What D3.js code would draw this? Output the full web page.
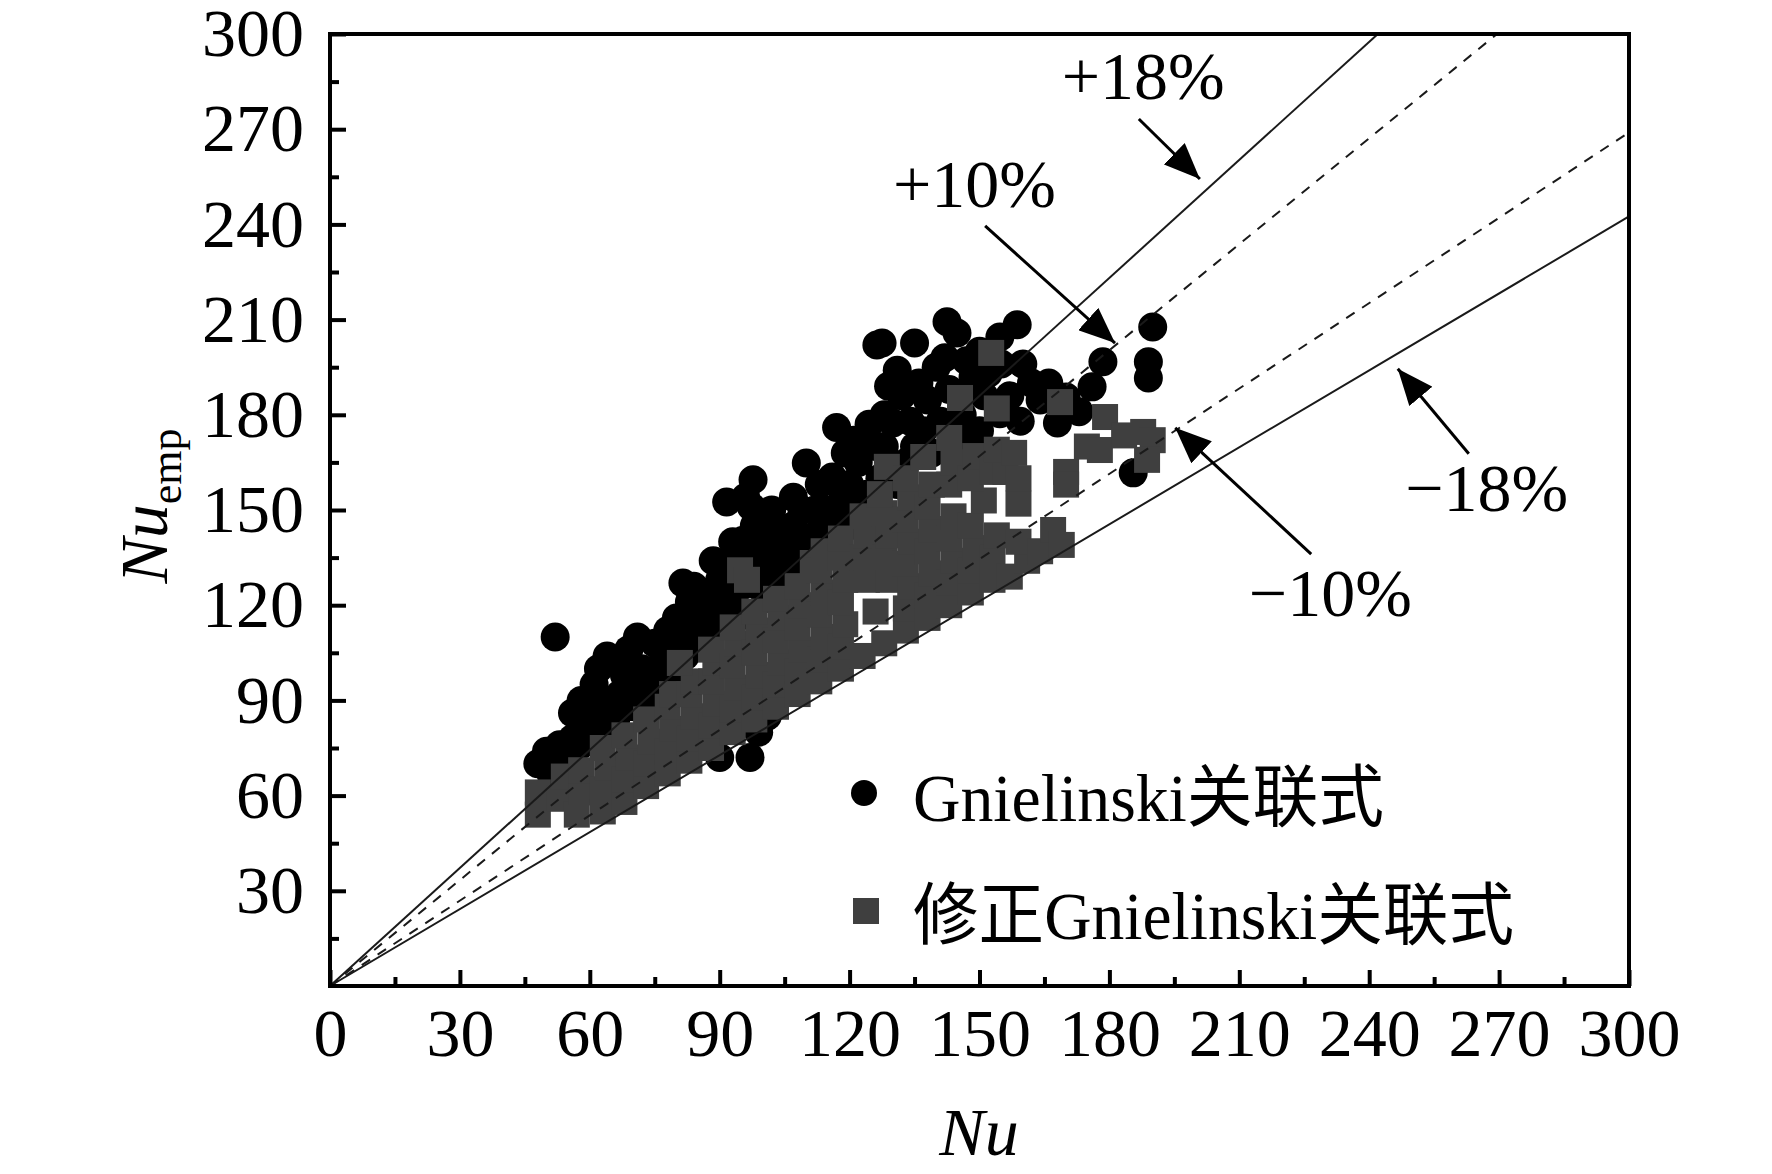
<!DOCTYPE html>
<html>
<head>
<meta charset="utf-8">
<script src="https://cdn.jsdelivr.net/npm/d3@7"></script>
<style>
  body { margin: 0; background: #fff; }
  text { font-family: "Liberation Serif", "Noto Sans CJK SC", serif; fill: #000; }
</style>
</head>
<body>
<script>
// axis ticks
var majorTicks = [0, 30, 60, 90, 120, 150, 180, 210, 240, 270, 300],
    minorTicks = [15, 45, 75, 105, 135, 165, 195, 225, 255, 285];

// Gnielinski correlation: [Nu, Nu_emp]
var gnielinski = [
  [48,70],[50,74],[53,76],[56,78],[51,67],[55,72],
  [52,110],
  [56,86],[58,90],[59,82],[61,95],[62,100],[63,88],[64,104],[66,102],
  [67,92],[68,98],[69,106],[71,110],[72,100],[74,95],[75,108],[70,88],
  [77,103],[78,112],[80,116],[81.5,127],[83,121],[84,108],[86,116],[79,98],
  [87,124],[88.5,134],[90,128],[91.6,152.5],[92,120],[93,140],[95.4,140.5],[94,116],[89,113],
  [96,154],[97.3,151],[97.7,159.5],[99,126],[100,134],[101,145],[103,130],[104,138],[105.5,143.7],[107,154],[102,122],
  [108,132],[110,140],[110,164.8],[112,150],[113,158],[114,144],[116,160.4],[117,176],
  [118,150],[119,168],[120,158],[122,165],[123,152],[124.5,177],[124,155],
  [126.3,202],[127.5,202.6],[131,194],[130,177.4],[132,186],[128,170],[134,178],[127,160],[133,165],
  [135,202.6],[140,195],[142.5,209.3],[144.8,205.8],[138,184.7],[143,188],[137,175],[145.5,171.7],[141,178],
  [148.5,191.9],[150,175],[154.7,204.5],[158.7,208.4],[154.7,180.3],[159.4,178],[152,193],[157,186],[150,200],
  [164,184.7],[168,177.4],[170,185.6],[176,188.8],[178.5,196.7],[173,181],
  [190,207.7],[189,196.7],[189,191.6],[185.5,161.7],
  [90,72],[97,72],[99,80],[101,85],
  [58,76],[62,80],[66,84],[70,95],[73,90],[76,98],[78,105],[82,104],[81,112],[85,113],
  [86,120],[84,126],[90,118],[91,125],[93,132],[95,126],[97,134],[98,145],[100,140],[102,150],
  [104,126],[106,135],[107,145],[109,150],[111,134],[112,142],[115,150],[116,138],[118,157],[120,145],
  [121,172],[125,150],[126,170],[128,180],[129,189],[131,158],[135,170],[136,190],[139,168],[142,198],
  [146,180],[147,197],[151,186],[155,196],[160,196],[162,190],[166,190]
];

// modified Gnielinski correlation: [Nu, Nu_emp]
var modified = [
  [48,54],[48,61],
  [53,59],[54,66],
  [57,54],[58,61],[58,68],
  [63,55],[63,62],[64,69],[63,75],
  [68,58],[68,65],[69,72],[68,79],
  [73,63],[73,70],[74,77],[73,84],
  [78,67],[78,74],[79,81],[78,88],[79,92],
  [83,71],[83,78],[84,85],[83,92],[84,96],[80.8,101.8],
  [88,75],[88,82],[89,89],[88,96],[89,102],[88,106],
  [93,80],[93,87],[94,94],[93,101],[94,108],[93,113],[94.7,131],
  [98,84],[98,91],[99,98],[98,105],[99,112],[98,118],[96.3,128],
  [103,88],[103,95],[104,102],[103,109],[104,116],[103,122],
  [108,92],[108,99],[109,106],[108,113],[109,120],[108,126],[111.5,133.3],
  [113,96],[113,103],[114,110],[113,117],[114,124],[113,131],[114,137],
  [118,100],[118,107],[119,114],[118,121],[119,128],[118,135],[118,141],
  [123,104],[126,118],[124,128],[123,135],[124,142],[123,148],
  [128,108],[129,128],[128,135],[129,142],[128,149],[127,155],[128.6,163.6],
  [133,112],[133,119],[134,126],[133,133],[134,140],[133,147],[134,154],[133,160],
  [138,116],[138,123],[139,130],[138,137],[139,144],[138,151],[139,158],[137,166.7],
  [143,120],[143,127],[144,134],[143,141],[144,148],[143,158],[144,165],[143,172.7],
  [148,124],[148,131],[149,138],[148,145],[151,153],[148,160],[149,167],[145.5,185.3],
  [153,128],[153,135],[154,142],[153,162],[156,162],[154,169],[152.7,199.5],[154,182],
  [157,129],[161,134],[159,140],[159,152],[159,160],[158,168],
  [164,137],[167,143.7],[169,139],[170,162],[168.6,184],[170,158],
  [174.8,170],[177.8,168.9],[179,179.3],[183.4,173.5],[187.8,174.6],[190,172],[188.7,165.8]
];

// deviation lines, drawn from the origin to these ends
var lineNames = ["+18%", "+10%", "\u221210%", "\u221218%"],
    lineEnds = [[242, 300], [269.5, 300], [300, 269], [300, 242.5]];

// annotation label anchors and arrows (data units)
var labelAt = [[169, 279.5], [130, 245.5], [212.2, 116.6], [248.3, 149.7]],
    arrowFrom = [[186.8, 273.2], [151.3, 239.5], [226.6, 136.1], [263, 167.7]],
    arrowTo = [[200.9, 254.3], [181.3, 202.6], [195.2, 175.9], [246.6, 194.5]];

var legendNames = ["Gnielinski\u5173\u8054\u5f0f", "\u4fee\u6b63Gnielinski\u5173\u8054\u5f0f"];

var W = 1772, H = 1174,
    padL = 330, padR = 1629, padT = 34, padB = 986;

var svg = d3.select("body").append("svg")
  .attr("width", W)
  .attr("height", H);

var x = d3.scaleLinear().domain([0, 300]).range([padL, padR]),
    y = d3.scaleLinear().domain([0, 300]).range([padB, padT]);

var fs = 68;

// points
svg.append("g").selectAll("circle")
  .data(gnielinski)
  .enter().append("circle")
  .attr("cx", d => x(d[0]))
  .attr("cy", d => y(d[1]))
  .attr("r", 14.5)
  .style("fill", "#000");

var sq = 26;
svg.append("g").selectAll("rect")
  .data(modified)
  .enter().append("rect")
  .attr("x", d => x(d[0]) - sq / 2)
  .attr("y", d => y(d[1]) - sq / 2)
  .attr("width", sq)
  .attr("height", sq)
  .style("fill", "#3f3f3f");

// deviation lines
svg.append("g").selectAll("line")
  .data(lineEnds)
  .enter().append("line")
  .attr("x1", x(0)).attr("y1", y(0))
  .attr("x2", d => x(d[0]))
  .attr("y2", d => y(d[1]))
  .attr("stroke", "#1a1a1a")
  .attr("stroke-width", 2)
  .attr("stroke-dasharray", (d, i) => (i == 1 || i == 2) ? "10,9" : null);

// axes with inward ticks
function styleAxis(g) {
  g.select(".domain").remove();
  g.selectAll(".tick line").attr("stroke", "#000").attr("stroke-width", 4);
  g.selectAll(".tick text")
    .style("font-size", fs + "px")
    .style("font-family", '"Liberation Serif", serif');
}

svg.append("g")
  .attr("transform", "translate(0," + padB + ")")
  .call(d3.axisBottom(x).tickValues(majorTicks).tickSize(-16).tickPadding(22).tickFormat(d3.format("d")))
  .call(styleAxis);
svg.append("g")
  .attr("transform", "translate(0," + padB + ")")
  .call(d3.axisBottom(x).tickValues(minorTicks).tickSize(-9).tickFormat(""))
  .call(styleAxis);

svg.append("g")
  .attr("transform", "translate(" + padL + ",0)")
  .call(d3.axisLeft(y).tickValues(majorTicks.slice(1)).tickSize(-16).tickPadding(26).tickFormat(d3.format("d")))
  .call(styleAxis);
svg.append("g")
  .attr("transform", "translate(" + padL + ",0)")
  .call(d3.axisLeft(y).tickValues(minorTicks).tickSize(-9).tickFormat(""))
  .call(styleAxis);

// frame
svg.append("rect")
  .attr("x", padL).attr("y", padT)
  .attr("width", padR - padL).attr("height", padB - padT)
  .attr("fill", "none")
  .attr("stroke", "#000")
  .attr("stroke-width", 4);

// arrows
svg.append("defs").append("marker")
  .attr("id", "head")
  .attr("viewBox", "0 0 12 10")
  .attr("refX", 12).attr("refY", 5)
  .attr("markerWidth", 12).attr("markerHeight", 10)
  .attr("markerUnits", "strokeWidth")
  .attr("orient", "auto")
  .append("path")
  .attr("d", "M0,0L12,5L0,10Z")
  .attr("fill", "#000");

svg.append("g").selectAll("line")
  .data(arrowFrom)
  .enter().append("line")
  .attr("x1", d => x(d[0]))
  .attr("y1", d => y(d[1]))
  .attr("x2", (d, i) => x(arrowTo[i][0]))
  .attr("y2", (d, i) => y(arrowTo[i][1]))
  .attr("stroke", "#000")
  .attr("stroke-width", 3)
  .attr("marker-end", "url(#head)");

svg.append("g").selectAll("text")
  .data(lineNames)
  .enter().append("text")
  .attr("x", (d, i) => x(labelAt[i][0]))
  .attr("y", (d, i) => y(labelAt[i][1]))
  .style("font-size", fs + "px")
  .text(d => d);

// legend
var lg = svg.append("g");
lg.append("circle").attr("cx", 864).attr("cy", 793).attr("r", 13).style("fill", "#000");
lg.append("rect").attr("x", 853).attr("y", 898).attr("width", 26).attr("height", 26).style("fill", "#3f3f3f");
lg.selectAll("text")
  .data(legendNames)
  .enter().append("text")
  .attr("x", 913)
  .attr("y", (d, i) => 821 + i * 118)
  .attr("textLength", (d, i) => i ? 601 : 471)
  .attr("lengthAdjust", "spacingAndGlyphs")
  .style("font-size", fs + "px")
  .text(d => d);

// axis titles
svg.append("text")
  .attr("x", 979).attr("y", 1155)
  .attr("text-anchor", "middle")
  .style("font-size", fs + "px")
  .style("font-style", "italic")
  .text("Nu");

var yt = svg.append("text")
  .attr("transform", "translate(167,506) rotate(-90)")
  .attr("text-anchor", "middle")
  .style("font-size", fs + "px");
yt.append("tspan").style("font-style", "italic").text("Nu");
yt.append("tspan").attr("dy", 14).style("font-size", "44px").text("emp");
</script>
</body>
</html>
